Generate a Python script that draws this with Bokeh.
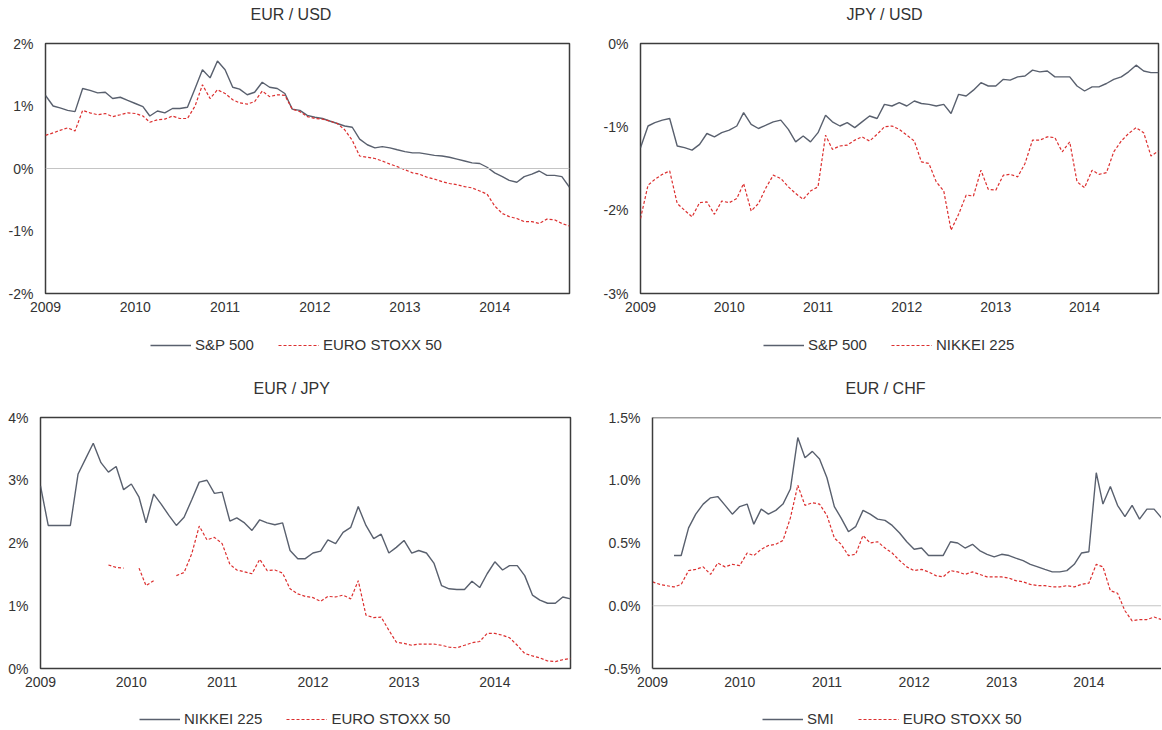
import pandas as pd
from bokeh.plotting import figure
from bokeh.layouts import row, column
from bokeh.models import (Range1d, FixedTicker, PrintfTickFormatter, DatetimeTickFormatter,
                          Span, Legend, LegendItem, ColumnDataSource)
from bokeh.embed import file_html
from bokeh.resources import INLINE

nan = float("nan")

# ---------------- data (monthly, Jan 2009 - Nov 2014, values in %) ----------------
months = pd.date_range("2009-01-01", periods=71, freq="MS")
year_ticks = [2009, 2010, 2011, 2012, 2013, 2014]

eurusd_sp500 = [1.17, 1.00, 0.97, 0.93, 0.91, 1.28, 1.25, 1.21, 1.22, 1.12,
                1.14, 1.09, 1.04, 0.99, 0.84, 0.92, 0.89, 0.96, 0.96, 0.98,
                1.28, 1.58, 1.45, 1.72, 1.58, 1.30, 1.27, 1.18, 1.22, 1.38,
                1.30, 1.28, 1.20, 0.95, 0.93, 0.85, 0.82, 0.80, 0.76, 0.72,
                0.68, 0.66, 0.47, 0.38, 0.33, 0.35, 0.33, 0.30, 0.27, 0.25,
                0.25, 0.23, 0.21, 0.20, 0.18, 0.15, 0.12, 0.09, 0.08, 0.02,
                -0.07, -0.13, -0.19, -0.22, -0.13, -0.09, -0.04, -0.11, -0.11, -0.13,
                -0.30]
eurusd_stoxx50 = [0.53, 0.57, 0.61, 0.65, 0.60, 0.93, 0.89, 0.86, 0.88, 0.83,
                  0.86, 0.89, 0.88, 0.84, 0.74, 0.78, 0.79, 0.84, 0.80, 0.80,
                  1.00, 1.34, 1.12, 1.26, 1.20, 1.10, 1.05, 1.03, 1.07, 1.24,
                  1.15, 1.18, 1.17, 0.95, 0.91, 0.83, 0.80, 0.79, 0.76, 0.72,
                  0.62, 0.45, 0.20, 0.18, 0.16, 0.12, 0.07, 0.03, -0.02, -0.07,
                  -0.09, -0.14, -0.17, -0.21, -0.24, -0.26, -0.29, -0.31, -0.36, -0.41,
                  -0.60, -0.72, -0.77, -0.80, -0.85, -0.85, -0.88, -0.81, -0.82, -0.88,
                  -0.92]

jpyusd_sp500 = [-1.25, -0.99, -0.95, -0.92, -0.90, -1.23, -1.25, -1.28, -1.21, -1.08,
                -1.12, -1.07, -1.04, -0.99, -0.83, -0.97, -1.02, -0.98, -0.94, -0.92,
                -1.03, -1.18, -1.11, -1.18, -1.07, -0.86, -0.94, -0.99, -0.95, -1.01,
                -0.94, -0.87, -0.90, -0.73, -0.75, -0.71, -0.75, -0.69, -0.72, -0.73,
                -0.75, -0.73, -0.84, -0.61, -0.63, -0.56, -0.47, -0.51, -0.51, -0.43,
                -0.44, -0.40, -0.39, -0.32, -0.34, -0.33, -0.40, -0.40, -0.40, -0.51,
                -0.57, -0.52, -0.52, -0.48, -0.43, -0.40, -0.34, -0.26, -0.33, -0.35,
                -0.35]
jpyusd_nikkei225 = [-2.10, -1.70, -1.63, -1.57, -1.53, -1.92, -2.00, -2.08, -1.91, -1.90,
                    -2.05, -1.89, -1.91, -1.86, -1.68, -2.01, -1.92, -1.73, -1.58, -1.62,
                    -1.72, -1.80, -1.87, -1.77, -1.72, -1.10, -1.27, -1.23, -1.22, -1.16,
                    -1.12, -1.17, -1.09, -1.00, -0.99, -1.03, -1.10, -1.17, -1.42, -1.44,
                    -1.66, -1.77, -2.24, -2.05, -1.82, -1.83, -1.52, -1.75, -1.76, -1.58,
                    -1.57, -1.60, -1.44, -1.16, -1.16, -1.12, -1.13, -1.30, -1.18, -1.66,
                    -1.73, -1.52, -1.57, -1.55, -1.30, -1.17, -1.08, -1.01, -1.07, -1.35,
                    -1.29]

eurjpy_nikkei225 = [2.91, 2.28, 2.28, 2.28, 2.28, 3.10, 3.34, 3.59, 3.28, 3.13,
                    3.22, 2.85, 2.94, 2.73, 2.32, 2.78, 2.62, 2.44, 2.28, 2.41,
                    2.69, 2.97, 3.00, 2.79, 2.81, 2.35, 2.40, 2.32, 2.20, 2.37,
                    2.32, 2.29, 2.32, 1.88, 1.75, 1.75, 1.84, 1.87, 2.05, 1.99,
                    2.17, 2.25, 2.58, 2.28, 2.07, 2.14, 1.84, 1.93, 2.04, 1.84,
                    1.88, 1.84, 1.68, 1.32, 1.27, 1.26, 1.26, 1.39, 1.29, 1.51,
                    1.70, 1.57, 1.64, 1.64, 1.48, 1.17, 1.09, 1.04, 1.04, 1.14,
                    1.11]
eurjpy_stoxx50 = [nan, nan, nan, nan, nan, nan, nan, nan, nan, 1.65,
                  1.61, 1.60, nan, 1.60, 1.32, 1.40, nan, nan, 1.48, 1.53,
                  1.83, 2.27, 2.05, 2.09, 1.99, 1.66, 1.57, 1.54, 1.51, 1.74,
                  1.56, 1.57, 1.52, 1.27, 1.19, 1.15, 1.13, 1.07, 1.15, 1.14,
                  1.17, 1.11, 1.40, 0.85, 0.81, 0.82, 0.61, 0.42, 0.40, 0.37,
                  0.39, 0.39, 0.39, 0.37, 0.34, 0.33, 0.37, 0.41, 0.43, 0.56,
                  0.56, 0.53, 0.49, 0.37, 0.24, 0.20, 0.17, 0.12, 0.11, 0.14,
                  0.16]

eurchf_smi = [nan, nan, nan, 0.40, 0.40, 0.62, 0.73, 0.81, 0.86, 0.87,
              0.80, 0.73, 0.79, 0.81, 0.65, 0.77, 0.73, 0.76, 0.81, 0.93,
              1.34, 1.18, 1.23, 1.17, 1.02, 0.79, 0.70, 0.59, 0.63, 0.76,
              0.73, 0.69, 0.68, 0.64, 0.58, 0.51, 0.45, 0.46, 0.40, 0.40,
              0.40, 0.51, 0.50, 0.46, 0.49, 0.44, 0.41, 0.39, 0.41, 0.40,
              0.38, 0.36, 0.33, 0.31, 0.29, 0.27, 0.27, 0.28, 0.33, 0.42,
              0.43, 1.06, 0.81, 0.95, 0.80, 0.71, 0.80, 0.69, 0.77, 0.77,
              0.70]
eurchf_stoxx50 = [0.19, 0.17, 0.16, 0.15, 0.17, 0.28, 0.29, 0.31, 0.25, 0.34,
                  0.31, 0.33, 0.32, 0.42, 0.40, 0.45, 0.48, 0.49, 0.52, 0.70,
                  0.96, 0.80, 0.82, 0.81, 0.72, 0.54, 0.49, 0.40, 0.41, 0.56,
                  0.50, 0.51, 0.46, 0.42, 0.36, 0.31, 0.28, 0.29, 0.27, 0.24,
                  0.23, 0.28, 0.27, 0.25, 0.27, 0.25, 0.23, 0.23, 0.23, 0.22,
                  0.20, 0.19, 0.17, 0.16, 0.16, 0.15, 0.15, 0.16, 0.15, 0.17,
                  0.18, 0.33, 0.31, 0.12, 0.10, -0.04, -0.12, -0.11, -0.11, -0.09,
                  -0.11]

# ---------------- styling ----------------
FONT = "Liberation Sans"
GRAY = "#59606e"
RED = "#dc2f2f"
FRAME = "#3c3c3c"
TXT = "#333333"
SOLID = dict(line_color=GRAY, line_width=1.4)
DASHED = dict(line_color=RED, line_width=1.2, line_dash="3 2")

tick_ms = [pd.Timestamp(f"{y}-01-01").value / 1e6 for y in year_ticks]


def chart(title, src, yr, yticks, yfmt, W, H, mbl, mbr, mbt, mbb,
          title_off, zero_line, open_right=False):
    p = figure(width=W, height=H, x_axis_type="datetime", output_backend="svg",
               toolbar_location=None, title=title + "\n",
               x_range=Range1d(months[0].to_pydatetime(), months[-1].to_pydatetime()),
               y_range=Range1d(*yr),
               min_border_left=mbl, min_border_right=mbr,
               min_border_top=mbt, min_border_bottom=mbb)
    p.xgrid.visible = False
    p.ygrid.visible = False
    p.background_fill_color = "white"
    p.border_fill_color = "white"

    p.title.align = "left"
    p.title.offset = title_off
    p.title.vertical_align = "top"
    p.title.text_font = FONT
    p.title.text_font_size = "16px"
    p.title.text_font_style = "normal"
    p.title.text_color = TXT
    p.title.text_line_height = 1.0
    p.title.standoff = 4

    if zero_line:
        p.add_layout(Span(location=0, dimension="width", line_color="#c4c4c4", line_width=1))

    p.line("x", "a", source=src, **SOLID)
    p.line("x", "b", source=src, **DASHED)

    for ax in (p.xaxis[0], p.yaxis[0]):
        ax.major_tick_line_color = None
        ax.minor_tick_line_color = None
        ax.major_tick_out = 0
        ax.major_tick_in = 0
        ax.minor_tick_out = 0
        ax.minor_tick_in = 0
        ax.major_label_text_font = FONT
        ax.major_label_text_font_size = "14px"
        ax.major_label_text_color = TXT
        ax.axis_line_color = None
    p.xaxis[0].ticker = FixedTicker(ticks=tick_ms)
    p.xaxis[0].formatter = DatetimeTickFormatter(years="%Y", months="%Y", days="%Y",
                                                 hours="%Y", hourmin="%Y")
    p.xaxis[0].major_label_standoff = 8
    p.yaxis[0].ticker = FixedTicker(ticks=yticks)
    p.yaxis[0].formatter = PrintfTickFormatter(format=yfmt)
    p.yaxis[0].major_label_standoff = 12

    if open_right:
        p.outline_line_color = None
        p.xaxis[0].axis_line_color = FRAME
        p.xaxis[0].axis_line_width = 1.5
        p.yaxis[0].axis_line_color = FRAME
        p.yaxis[0].axis_line_width = 1.5
        p.add_layout(Span(location=yr[1], dimension="width", line_color=FRAME, line_width=1.5))
    else:
        p.outline_line_color = FRAME
        p.outline_line_width = 1.5
        p.outline_line_alpha = 1
    return p


def legend_strip(names, src, W, H, lx, ly):
    # legend-only strip under a chart; its frame is aligned with the chart frame above,
    # the series are drawn outside its (empty) y range so only the legend shows
    q = figure(width=W, height=H, output_backend="svg", toolbar_location=None,
               x_axis_type="datetime",
               x_range=Range1d(months[0].to_pydatetime(), months[-1].to_pydatetime()),
               y_range=Range1d(100, 101),
               x_axis_location=None, y_axis_location=None,
               min_border_left=0, min_border_right=0, min_border_top=0, min_border_bottom=0)
    q.xgrid.visible = False
    q.ygrid.visible = False
    q.outline_line_color = None
    q.background_fill_color = "white"
    q.border_fill_color = "white"
    r1 = q.line("x", "a", source=src, **SOLID)
    r2 = q.line("x", "b", source=src, **DASHED)
    leg = Legend(items=[LegendItem(label=names[0], renderers=[r1]),
                        LegendItem(label=names[1], renderers=[r2])],
                 orientation="horizontal", location=(lx, ly),
                 glyph_width=41, glyph_height=14, label_standoff=4, spacing=24,
                 padding=0, margin=0, border_line_color=None, background_fill_alpha=0,
                 label_text_font=FONT, label_text_font_size="15px", label_text_color=TXT)
    q.add_layout(leg, "center")
    return q


s1 = ColumnDataSource(dict(x=months, a=eurusd_sp500, b=eurusd_stoxx50))
s2 = ColumnDataSource(dict(x=months, a=jpyusd_sp500, b=jpyusd_nikkei225))
s3 = ColumnDataSource(dict(x=months, a=eurjpy_nikkei225, b=eurjpy_stoxx50))
s4 = ColumnDataSource(dict(x=months, a=eurchf_smi, b=eurchf_stoxx50))

p1 = chart("EUR / USD", s1, (-2, 2), [-2, -1, 0, 1, 2], "%d%%",
           600, 325, 45, 31, 43, 32, 205, True)
p2 = chart("JPY / USD", s2, (-3, 0), [-3, -2, -1, 0], "%d%%",
           561, 325, 37, 3, 43, 32, 206, False)
p3 = chart("EUR / JPY", s3, (0, 4), [0, 1, 2, 3, 4], "%d%%",
           600, 340, 40, 30, 57, 32, 213, False)
p4 = chart("EUR / CHF", s4, (-0.5, 1.5), [-0.5, 0, 0.5, 1.0, 1.5], "%.1f%%",
           561, 340, 50, 0, 57, 32, 193, True, open_right=True)

l1 = legend_strip(["S&P 500", "EURO STOXX 50"], s1, 600, 35, 105, 7)
l2 = legend_strip(["S&P 500", "NIKKEI 225"], s2, 561, 35, 123, 7)
l3 = legend_strip(["NIKKEI 225", "EURO STOXX 50"], s3, 600, 29, 99, 2)
l4 = legend_strip(["SMI", "EURO STOXX 50"], s4, 561, 29, 110, 2)

layout = column(row(column(p1, l1), column(p2, l2)),
                row(column(p3, l3), column(p4, l4)))

with open("out.html", "w") as f:
    f.write(file_html(layout, INLINE))
